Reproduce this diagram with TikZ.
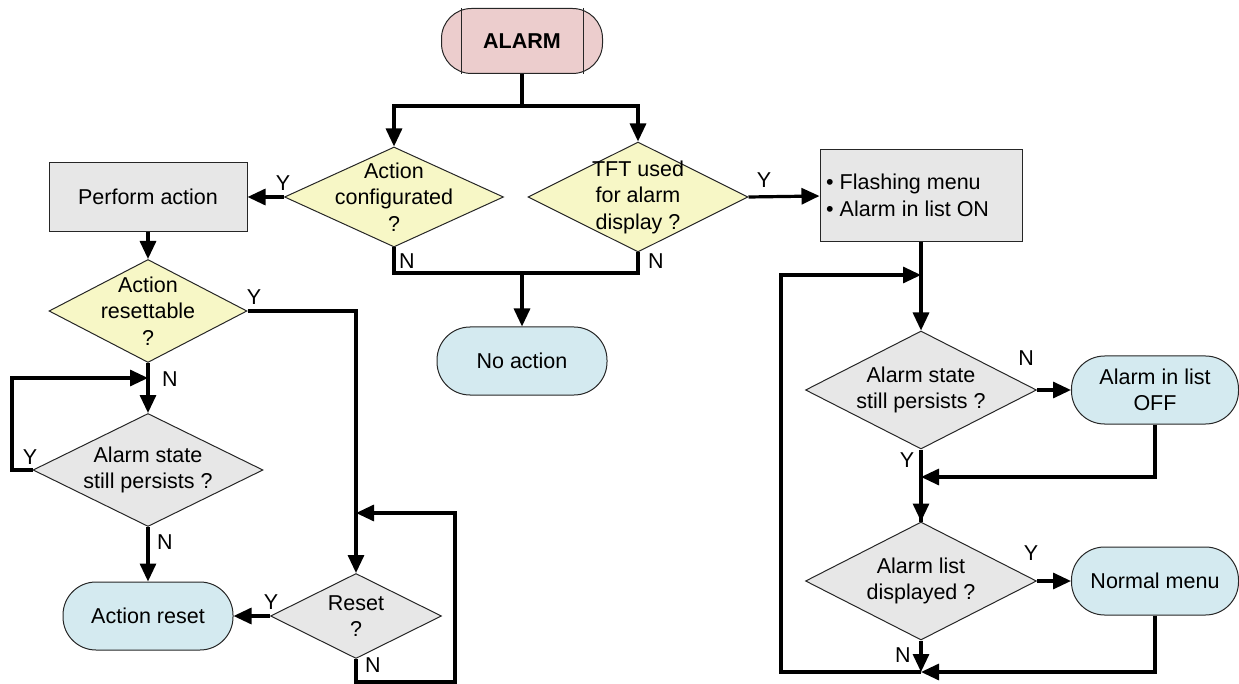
\documentclass[tikz,border=0pt]{standalone}
\usepackage{fontspec}
\setmainfont{Liberation Sans}
\usetikzlibrary{shapes.geometric,arrows.meta}
\definecolor{alarmpink}{RGB}{236,205,205}
\definecolor{askyellow}{RGB}{247,247,198}
\definecolor{boxgray}{RGB}{231,231,231}
\definecolor{endblue}{RGB}{212,234,240}
\begin{document}
\begin{tikzpicture}[x=1pt,y=-1pt,
    every node/.style={font=\fontsize{21.5}{26.5}\selectfont},
    box/.style={draw=black!85, line width=1pt, fill=boxgray, minimum width=#1, inner sep=0},
    term/.style={draw=black!85, line width=1pt, fill=endblue, rounded corners=33pt, minimum width=#1, minimum height=68pt, inner sep=0},
    ask/.style={diamond, draw=black!85, line width=1pt, inner sep=0, label={[align=center]center:#1}},
    wire/.style={line width=3.2pt},
    arr/.style={line width=3.2pt, -{Triangle[length=18pt,width=16pt]}}]
    \useasboundingbox (0,0) rectangle (1239,684);
    % blocks
    \node [draw=black!85, line width=1pt, fill=alarmpink, rounded corners=30pt, minimum width=161pt, minimum height=65pt, font=\fontsize{21.5}{26.5}\selectfont\bfseries] (alarm) at (522,41) {ALARM};
    \draw [line width=1pt, black!85] ([xshift=20pt]alarm.north west) -- ([xshift=20pt]alarm.south west);
    \draw [line width=1pt, black!85] ([xshift=-20pt]alarm.north east) -- ([xshift=-20pt]alarm.south east);
    \node [ask={Action\\configurated\\?}, fill=askyellow, minimum width=219pt, minimum height=100pt] (q1) at (394,197) {};
    \node [ask={TFT used\\for alarm\\display ?}, fill=askyellow, minimum width=220pt, minimum height=110pt] (q2) at (638,197) {};
    \node [term=170pt] (noact) at (522,361) {No action};
    \node [box=198pt, minimum height=69pt] (perf) at (148,197) {Perform action};
    \node [ask={Action\\resettable\\?}, fill=askyellow, minimum width=198pt, minimum height=103pt] (q3) at (148,311) {};
    \node [ask={Alarm state\\still persists ?}, fill=boxgray, minimum width=230pt, minimum height=113pt] (q4) at (148,470) {};
    \node [term=170pt] (reset) at (148,616) {Action reset};
    \node [ask={Reset\\?}, fill=boxgray, minimum width=171pt, minimum height=85pt] (q5) at (356,616) {};
    \node [box=202pt, minimum height=92pt] (flash) at (921,196) {};
    \node [anchor=north west, align=left, inner sep=0] (flashtxt) at (826,174) {• Flashing menu\\• Alarm in list ON};
    \node [ask={Alarm state\\still persists ?}, fill=boxgray, minimum width=231pt, minimum height=118pt] (q6) at (921,390) {};
    \node [term=167pt, align=center] (off) at (1155,390) {Alarm in list\\OFF};
    \node [ask={Alarm list\\displayed ?}, fill=boxgray, minimum width=231pt, minimum height=118pt] (q7) at (921,581) {};
    \node [term=167pt] (normal) at (1155,581) {Normal menu};
    % junctions
    \coordinate (j1) at (522,106);
    \coordinate (j2) at (522,273);
    \coordinate (j3) at (148,378);
    \coordinate (j4) at (921,275);
    \coordinate (j5) at (921,672);
    \coordinate (j6) at (921,477);
    \coordinate (j7) at (356,513);
    % connectors
    \draw [wire] (alarm.south) -- (j1);
    \draw [arr] (j1) -| (q1.north);
    \draw [arr] (j1) -| (q2.north);
    \draw [arr] (q1.west) -- (perf.east);
    \draw [arr] (q2.east) -- (flash.west);
    \draw [wire] (q1.south) |- (j2);
    \draw [wire] (q2.south) |- (j2);
    \draw [arr] (j2) -- (noact.north);
    \draw [arr] (perf.south) -- (q3.north);
    \draw [arr] (q3.east) -| (q5.north);
    \draw [arr] (q3.south) -- (q4.north);
    \draw [arr] (q4.west) -- (12,470) |- (j3);
    \draw [arr] (q4.south) -- (reset.north);
    \draw [arr] (q5.west) -- (reset.east);
    \draw [arr] (q5.south) -- (356,682) -| (455,513) -- (j7);
    \draw [arr] (flash.south) -- (q6.north);
    \draw [arr] (j5) -- (781,672) |- (j4);
    \draw [arr] (q6.east) -- (off.west);
    \draw [wire] (q6.south) -- (q7.north);
    \draw [arr] (off.south) |- (j6);
    \draw [arr] (j6) -- (q7.north);
    \draw [arr] (q7.east) -- (normal.west);
    \draw [arr] (q7.south) -- (j5);
    \draw [arr] (normal.south) |- (j5);
    % Y / N marks
    \node (y1) at (283,183) {Y};
    \node (y2) at (764,180) {Y};
    \node (n1) at (407,261) {N};
    \node (n2) at (656,261) {N};
    \node (y3) at (254,297) {Y};
    \node (n3) at (170,379) {N};
    \node (y4) at (30,457) {Y};
    \node (n4) at (165,542) {N};
    \node (y5) at (271,602) {Y};
    \node (n5) at (373,665) {N};
    \node (n6) at (1026,358) {N};
    \node (y6) at (907,460) {Y};
    \node (y7) at (1031,553) {Y};
    \node (n7) at (903,655) {N};
\end{tikzpicture}
\end{document}
